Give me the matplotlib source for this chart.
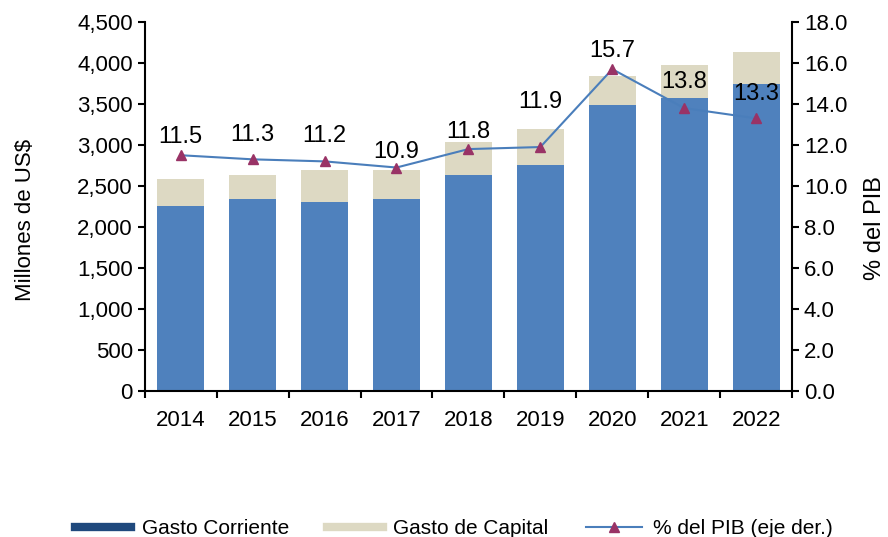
import matplotlib.pyplot as plt
from matplotlib.lines import Line2D
from matplotlib.ticker import FuncFormatter
import numpy as np

plt.rcParams['font.family'] = ['Liberation Sans', 'DejaVu Sans']

years = ['2014', '2015', '2016', '2017', '2018', '2019', '2020', '2021', '2022']
gasto_corriente = [2260, 2340, 2310, 2340, 2640, 2750, 3490, 3570, 3740]
gasto_total = [2590, 2640, 2700, 2700, 3040, 3190, 3840, 3980, 4140]
pct_pib = [11.5, 11.3, 11.2, 10.9, 11.8, 11.9, 15.7, 13.8, 13.3]

# label offsets above each point (points), as placed in the original
label_dy = [8.6, 13.5, 14.2, 6.6, 7.8, 28, 8.6, 14.4, 13.2]

gasto_capital = [t - c for t, c in zip(gasto_total, gasto_corriente)]

blue = '#4F81BD'
beige = '#DDD9C3'
marker_col = '#993366'

fig = plt.figure(figsize=(8.88, 5.37), dpi=100)
ax = fig.add_axes([0.163, 0.272, 0.729, 0.687])
x = np.arange(len(years))

ax.bar(x, gasto_corriente, width=0.65, color=blue, zorder=2)
ax.bar(x, gasto_capital, width=0.65, bottom=gasto_corriente, color=beige, zorder=2)

ax.set_xlim(-0.5, len(years) - 0.5)
ax.set_ylim(0, 4500)
ax.set_yticks(np.arange(0, 4501, 500))
ax.yaxis.set_major_formatter(FuncFormatter(lambda v, p: f'{v:,.0f}'))
ax.set_xticks(x)
ax.set_xticklabels(years)
ax.set_xticks(np.arange(-0.5, len(years), 1), minor=True)
ax.tick_params(axis='x', which='major', length=0, labelsize=16, pad=14)
ax.tick_params(axis='x', which='minor', length=5, width=1.5, direction='out')
ax.tick_params(axis='y', labelsize=16, length=5, width=1.5, direction='out')
ax.set_ylabel('Millones de US$', fontsize=16)
ax.yaxis.set_label_coords(-0.168, 0.463)
ax.spines['top'].set_visible(False)
ax.spines['right'].set_visible(False)
ax.spines['left'].set_linewidth(1.5)
ax.spines['bottom'].set_linewidth(1.5)

ax2 = ax.twinx()
ax2.plot(x, pct_pib, color='#4A7EBB', linewidth=1.5, marker='^', markersize=7.5,
         markerfacecolor=marker_col, markeredgecolor=marker_col, zorder=3)
for xi, v, dy in zip(x, pct_pib, label_dy):
    ax2.annotate(f'{v:.1f}', (xi, v), xytext=(0, dy), textcoords='offset points',
                 ha='center', va='baseline', fontsize=17)
ax2.set_ylim(0, 18)
ax2.set_yticks(np.arange(0, 18.1, 2))
ax2.yaxis.set_major_formatter(FuncFormatter(lambda v, p: f'{v:.1f}'))
ax2.tick_params(axis='y', labelsize=16, length=5, width=1.5, direction='out')
ax2.set_ylabel('% del PIB', fontsize=17)
ax2.yaxis.set_label_coords(1.111, 0.442)
ax2.spines['top'].set_visible(False)
ax2.spines['left'].set_visible(False)
ax2.spines['bottom'].set_visible(False)
ax2.spines['right'].set_linewidth(1.5)

handles = [
    Line2D([], [], color='#1F497D', linewidth=6),
    Line2D([], [], color=beige, linewidth=6),
    Line2D([], [], color='#4A7EBB', linewidth=1.5, marker='^', markersize=7.5,
           markerfacecolor=marker_col, markeredgecolor=marker_col),
]
labels = ['Gasto Corriente', 'Gasto de Capital', '% del PIB (eje der.)']
fig.legend(handles, labels, loc='center', bbox_to_anchor=(0.511, 0.015), ncol=3,
           frameon=False, fontsize=15, handlelength=2.7, columnspacing=1.8,
           handletextpad=0.5)

fig.savefig('out.png', dpi=100)
